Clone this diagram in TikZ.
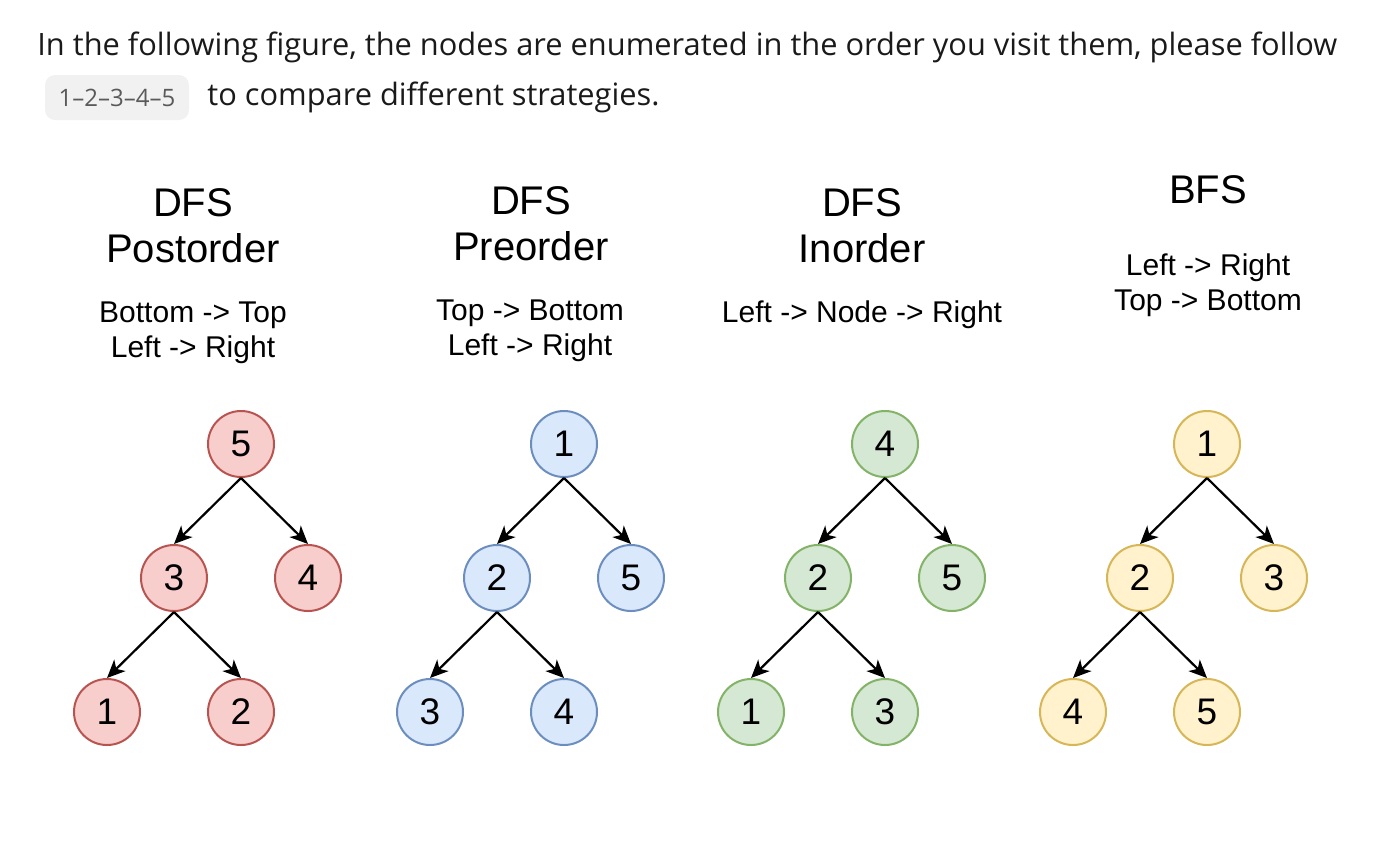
\documentclass[tikz,border=0pt]{standalone}
\usepackage{fontspec}
\setmainfont{Liberation Sans}
\setmonofont{DejaVu Sans Mono}
\newfontfamily\introfont{Open Sans}
\usetikzlibrary{arrows.meta, positioning}
\definecolor{postfill}{HTML}{F8CECC}
\definecolor{postline}{HTML}{B85450}
\definecolor{prefill}{HTML}{DAE8FC}
\definecolor{preline}{HTML}{6C8EBF}
\definecolor{infill}{HTML}{D5E8D4}
\definecolor{inline}{HTML}{82B366}
\definecolor{bfsfill}{HTML}{FFF2CC}
\definecolor{bfsline}{HTML}{D6B656}
\definecolor{codebg}{HTML}{F1F1F2}
\definecolor{codetext}{HTML}{5A5A5A}
\definecolor{bodytext}{HTML}{1A1A1A}

\begin{document}
\begin{tikzpicture}[
    x=0.5pt, y=-0.5pt,
    node distance=67pt and 33.5pt, on grid,
    vertex/.style={circle, draw=#1line, fill=#1fill, line width=1pt, minimum size=33pt, inner sep=0pt, font=\fontsize{18.5}{20}\selectfont},
    arrow/.style={-{Stealth[length=9pt, width=8pt, inset=2.5pt]}, line width=1.1pt},
    title/.style={align=center, font=\fontsize{20}{23}\selectfont},
    order/.style={align=center, font=\fontsize{15}{17.5}\selectfont},
    intro/.style={anchor=west, text=bodytext, font=\introfont\fontsize{15.4}{17}\selectfont, inner sep=0pt}
]
\useasboundingbox (0,0) rectangle (1390,842);

% Intro text
\node[intro] (line1) at (37,47) {In the following figure, the nodes are enumerated in the order you visit them, please follow};
\node[rectangle, rounded corners=5pt, fill=codebg, minimum width=72pt, minimum height=22.5pt, text=codetext, font=\introfont\fontsize{12}{14}\selectfont] (code) at (117,97.5) {1–2–3–4–5};
\node[intro] (line2) at (207,97) {to compare different strategies.};

% DFS Postorder
\node[title] (posttitle) at (193,226) {DFS\\Postorder};
\node[order] (postorder) at (193,332.5) {Bottom -> Top\\Left -> Right};
\node[vertex=post] (post5) at (241,444) {5};
\node[vertex=post, below left=of post5] (post3) {3};
\node[vertex=post, below right=of post5] (post4) {4};
\node[vertex=post, below left=of post3] (post1) {1};
\node[vertex=post, below right=of post3] (post2) {2};

% DFS Preorder
\node[title] (pretitle) at (531,224) {DFS\\Preorder};
\node[order] (preorder) at (530,330.5) {Top -> Bottom\\Left -> Right};
\node[vertex=pre] (pre1) at (564,444) {1};
\node[vertex=pre, below left=of pre1] (pre2) {2};
\node[vertex=pre, below right=of pre1] (pre5) {5};
\node[vertex=pre, below left=of pre2] (pre3) {3};
\node[vertex=pre, below right=of pre2] (pre4) {4};

% DFS Inorder
\node[title] (intitle) at (862,226) {DFS\\Inorder};
\node[order] (inorder) at (862,315) {Left -> Node -> Right};
\node[vertex=in] (in4) at (885,444) {4};
\node[vertex=in, below left=of in4] (in2) {2};
\node[vertex=in, below right=of in4] (in5) {5};
\node[vertex=in, below left=of in2] (in1) {1};
\node[vertex=in, below right=of in2] (in3) {3};

% BFS
\node[title] (bfstitle) at (1208,190) {BFS};
\node[order] (bfsorder) at (1208,285) {Left -> Right\\Top -> Bottom};
\node[vertex=bfs] (bfs1) at (1207,444) {1};
\node[vertex=bfs, below left=of bfs1] (bfs2) {2};
\node[vertex=bfs, below right=of bfs1] (bfs3) {3};
\node[vertex=bfs, below left=of bfs2] (bfs4) {4};
\node[vertex=bfs, below right=of bfs2] (bfs5) {5};

% Edges
\draw[arrow] (post5.south) -- (post3.north);
\draw[arrow] (post5.south) -- (post4.north);
\draw[arrow] (post3.south) -- (post1.north);
\draw[arrow] (post3.south) -- (post2.north);

\draw[arrow] (pre1.south) -- (pre2.north);
\draw[arrow] (pre1.south) -- (pre5.north);
\draw[arrow] (pre2.south) -- (pre3.north);
\draw[arrow] (pre2.south) -- (pre4.north);

\draw[arrow] (in4.south) -- (in2.north);
\draw[arrow] (in4.south) -- (in5.north);
\draw[arrow] (in2.south) -- (in1.north);
\draw[arrow] (in2.south) -- (in3.north);

\draw[arrow] (bfs1.south) -- (bfs2.north);
\draw[arrow] (bfs1.south) -- (bfs3.north);
\draw[arrow] (bfs2.south) -- (bfs4.north);
\draw[arrow] (bfs2.south) -- (bfs5.north);

\end{tikzpicture}
\end{document}
